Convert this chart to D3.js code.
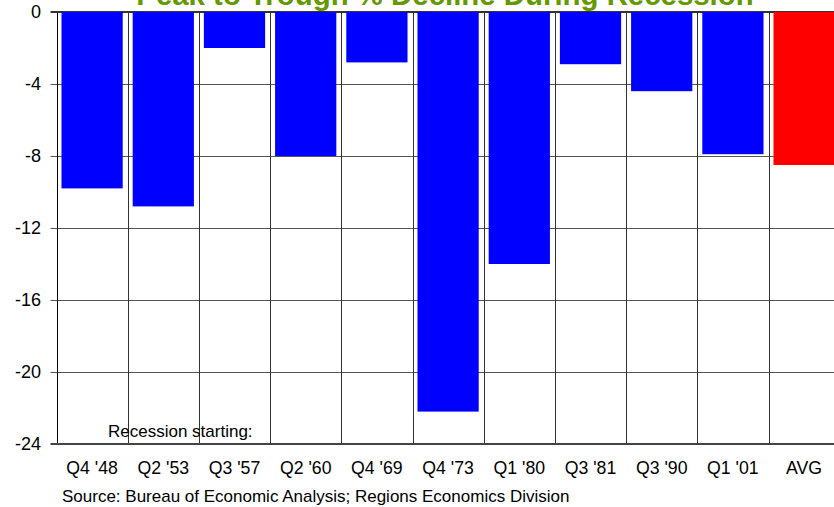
<!DOCTYPE html>
<html>
<head>
<meta charset="utf-8">
<script src="https://cdn.jsdelivr.net/npm/d3@7"></script>
<style>
  html, body { margin: 0; padding: 0; background: #fff; overflow: hidden; }
  svg { display: block; font-family: Arial, "Liberation Sans", sans-serif; }
</style>
</head>
<body>
<svg id="chart" width="834" height="507"></svg>
<script>
// Recession start quarters and peak-to-trough % decline
const categories = ["Q4 '48", "Q2 '53", "Q3 '57", "Q2 '60", "Q4 '69", "Q4 '73", "Q1 '80", "Q3 '81", "Q3 '90", "Q1 '01", "AVG"];
const declines = [-9.8, -10.8, -2.0, -8.0, -2.8, -22.2, -14.0, -2.9, -4.4, -7.9, -8.5];
const barColors = ["#0000ff", "#0000ff", "#0000ff", "#0000ff", "#0000ff", "#0000ff", "#0000ff", "#0000ff", "#0000ff", "#0000ff", "#ff0000"];
const yTicks = [0, -4, -8, -12, -16, -20, -24];

const titleText = "Peak to Trough % Decline During Recession";
const noteText = "Recession starting:";
const sourceText = "Source: Bureau of Economic Analysis; Regions Economics Division";

const svg = d3.select("#chart");
const plotLeft = 56.5, plotTop = 12, plotBottom = 444;
const step = 71.2;
const plotRight = plotLeft + step * categories.length;

const x = d3.scaleBand()
  .domain(categories)
  .range([plotLeft, plotRight])
  .paddingInner(0.14)
  .paddingOuter(0.07);

const y = d3.scaleLinear().domain([-24, 0]).range([plotBottom, plotTop]);

// horizontal gridlines with tick marks
svg.append("g")
  .selectAll("line")
  .data(yTicks.filter(d => d !== 0 && d !== -24))
  .join("line")
  .attr("x1", plotLeft - 6).attr("x2", 834)
  .attr("y1", d => Math.round(y(d)) + 0.5).attr("y2", d => Math.round(y(d)) + 0.5)
  .attr("stroke", "#555").attr("stroke-width", 1);

// category separators
const bounds = d3.range(categories.length + 1).map(i => plotLeft + i * step);
svg.append("g")
  .selectAll("line")
  .data(bounds)
  .join("line")
  .attr("x1", d => Math.round(d) + 0.5).attr("x2", d => Math.round(d) + 0.5)
  .attr("y1", plotTop).attr("y2", plotBottom)
  .attr("stroke", (d, i) => i === 0 ? "#000" : "#333").attr("stroke-width", 1);

// zero line and bottom baseline
svg.append("line")
  .attr("x1", plotLeft - 6).attr("x2", 834)
  .attr("y1", y(0)).attr("y2", y(0))
  .attr("stroke", "#333").attr("stroke-width", 2);
svg.append("line")
  .attr("x1", plotLeft - 6).attr("x2", 834)
  .attr("y1", y(-24)).attr("y2", y(-24))
  .attr("stroke", "#444").attr("stroke-width", 2);

// bars
svg.append("g")
  .selectAll("rect")
  .data(categories)
  .join("rect")
  .attr("x", d => x(d))
  .attr("width", x.bandwidth())
  .attr("y", y(0))
  .attr("height", (d, i) => y(declines[i]) - y(0))
  .attr("fill", (d, i) => barColors[i]);

// y-axis tick labels
svg.append("g")
  .selectAll("text")
  .data(yTicks)
  .join("text")
  .attr("x", 41)
  .attr("y", d => y(d))
  .attr("dy", "0.35em")
  .attr("text-anchor", "end")
  .attr("font-size", "18px")
  .attr("fill", "#000")
  .text(d => d);

// x-axis category labels
svg.append("g")
  .selectAll("text")
  .data(categories)
  .join("text")
  .attr("x", d => x(d) + x.bandwidth() / 2)
  .attr("y", 474)
  .attr("text-anchor", "middle")
  .attr("font-size", "17.7px")
  .attr("fill", "#000")
  .text(d => d);

// note inside plot
svg.append("text")
  .attr("x", 108)
  .attr("y", 437)
  .attr("font-size", "17px")
  .attr("fill", "#000")
  .text(noteText);

// source line
svg.append("text")
  .attr("x", 62)
  .attr("y", 502)
  .attr("font-size", "17px")
  .attr("fill", "#000")
  .text(sourceText);

// title
svg.append("text")
  .attr("x", 445)
  .attr("y", 5)
  .attr("text-anchor", "middle")
  .attr("font-size", "29.4px")
  .attr("font-weight", "bold")
  .attr("fill", "#669900")
  .text(titleText);
</script>
</body>
</html>
